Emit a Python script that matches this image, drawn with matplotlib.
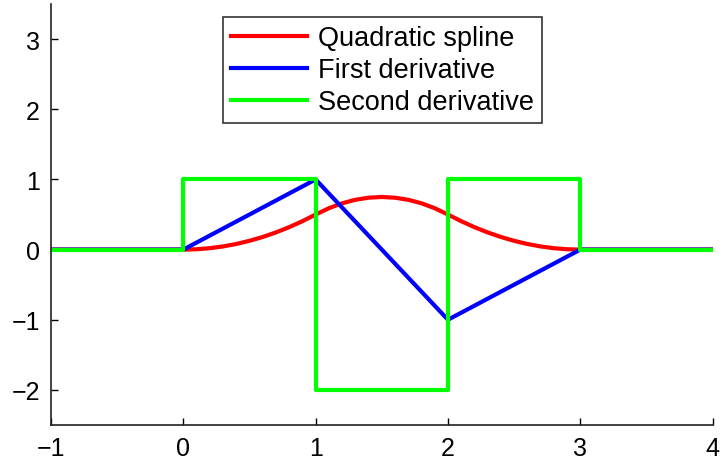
import matplotlib
matplotlib.use("Agg")
import matplotlib.pyplot as plt

plt.rcParams["font.family"] = ["Liberation Sans", "DejaVu Sans"]

# quadratic spline, sampled on [-1, 4]
spline_x = [-1.0, 0.0, 0.1, 0.2, 0.3, 0.4, 0.5, 0.6, 0.7, 0.8, 0.9, 1.0,
            1.1, 1.2, 1.3, 1.4, 1.5, 1.6, 1.7, 1.8, 1.9, 2.0,
            2.1, 2.2, 2.3, 2.4, 2.5, 2.6, 2.7, 2.8, 2.9, 3.0, 4.0]
spline_y = [0.0, 0.0, 0.005, 0.02, 0.045, 0.08, 0.125, 0.18, 0.245, 0.32, 0.405, 0.5,
            0.59, 0.66, 0.71, 0.74, 0.75, 0.74, 0.71, 0.66, 0.59, 0.5,
            0.405, 0.32, 0.245, 0.18, 0.125, 0.08, 0.045, 0.02, 0.005, 0.0, 0.0]

# first derivative (piecewise linear)
d1_x = [-1, 0, 1, 2, 3, 4]
d1_y = [0, 0, 1, -1, 0, 0]

# second derivative (piecewise constant)
d2_x = [-1, 0, 0, 1, 1, 2, 2, 3, 3, 4]
d2_y = [0, 0, 1, 1, -2, -2, 1, 1, 0, 0]

fig = plt.figure(figsize=(7.22, 4.64), dpi=100)
ax = fig.add_axes([0.0706, 0.082, 0.9164, 0.907])

ax.plot(spline_x, spline_y, color="#ff0000", lw=3, label="Quadratic spline")
ax.plot(d1_x, d1_y, color="#0000ff", lw=3, label="First derivative")
ax.plot(d2_x, d2_y, color="#00ff00", lw=3, label="Second derivative")

ax.set_xlim(-1, 4)
ax.set_ylim(-2.5, 3.5)
ax.set_xticks([-1, 0, 1, 2, 3, 4])
ax.set_yticks([-2, -1, 0, 1, 2, 3])
ax.set_xticklabels(["\u22121", "0", "1", "2", "3", "4"])
ax.set_yticklabels(["\u22122", "\u22121", "0", "1", "2", "3"])
ax.tick_params(direction="in", length=5, width=1, labelsize=18, pad=8)
for side in ["top", "right"]:
    ax.spines[side].set_visible(False)
for side in ["left", "bottom"]:
    ax.spines[side].set_linewidth(1.2)
    ax.spines[side].set_color("#222222")

leg = ax.legend(loc="upper left", bbox_to_anchor=(223 / 722, 1 - 18 / 464),
                bbox_transform=fig.transFigure, fontsize=19.5, frameon=True,
                fancybox=False, edgecolor="black", handlelength=2.8,
                handletextpad=0.4, labelspacing=0.22, borderpad=0.3,
                borderaxespad=0)
leg.get_frame().set_linewidth(1.2)

fig.savefig("out.png", dpi=100)
